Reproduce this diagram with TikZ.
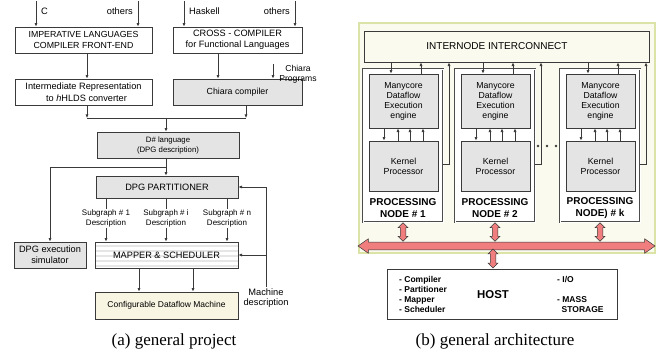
\documentclass[tikz,border=0pt]{standalone}
\usepackage{fontspec}
\setmainfont{Liberation Serif}
\setsansfont{Liberation Sans}
\usetikzlibrary{arrows.meta,shapes.arrows}
\definecolor{boxgray}{HTML}{E4E4E4}
\definecolor{cream}{HTML}{F8F5E2}
\definecolor{bgcream}{HTML}{FBFAEE}
\definecolor{bgedge}{HTML}{DCE3A6}
\definecolor{fatred}{HTML}{F07E7E}
\definecolor{ln}{HTML}{3A3A3A}
\definecolor{stripe}{HTML}{E6E6E6}
\newcommand{\fsz}[2]{\fontsize{#1}{#2}\selectfont}
\begin{document}
\begin{tikzpicture}[x=1pt,y=-1pt,
  box/.style={draw=ln, line width=0.8pt, fill=white, inner sep=0pt, align=center},
  gbox/.style={box, fill=boxgray},
  arr/.style={draw=ln, line width=0.7pt, -{Latex[length=3.6pt,width=3.2pt]}},
  lnn/.style={draw=ln, line width=0.7pt},
  lbl/.style={inner sep=1pt, align=center},
  sf/.style n args={2}{font=\sffamily\fsz{#1}{#2}},
  bsf/.style n args={2}{font=\sffamily\bfseries\fsz{#1}{#2}},
  fat/.style={double arrow, draw=ln, line width=0.5pt, fill=fatred, inner sep=2.5pt, outer sep=0pt,
    double arrow head extend=2.2pt, double arrow tip angle=90},
  stripes/.style={path picture={
    \foreach \k in {0,...,4}{
      \fill[stripe] ([yshift={-2.5pt-5pt*\k}]path picture bounding box.north west)
        rectangle ([yshift={-4.5pt-5pt*\k}]path picture bounding box.north east);}}}
]
\useasboundingbox (0,0) rectangle (667,356);

% ---------------- (a) general project ----------------
\node[box, sf={8.8}{11}, minimum width=137pt, minimum height=26pt] (imp) at (83.5,40)
  {IMPERATIVE LANGUAGES\\COMPILER FRONT-END};
\node[box, sf={9.2}{11}, minimum width=129pt, minimum height=26pt] (cross) at (237.5,40)
  {CROSS - COMPILER\\for Functional Languages};
\node[box, sf={9.2}{11.5}, minimum width=137pt, minimum height=26pt] (ir) at (83.5,92)
  {Intermediate Representation\\\hspace*{6pt}to \textit{h}HLDS converter};
\node[gbox, sf={8.8}{11}, minimum width=129pt, minimum height=26pt] (chi) at (237.5,92)
  {Chiara compiler};
\node[lbl, sf={8.6}{10}] (cp) at (298,74) {Chiara\\Programs};

\coordinate (inC) at (36,1);
\coordinate (inO1) at (138,1);
\coordinate (inH) at (184,1);
\coordinate (inO2) at (295,1);
\coordinate (inCP) at (273,64);
\draw[arr] (inC) -- (inC |- imp.north);
\draw[arr] (inO1) -- (inO1 |- imp.north);
\draw[arr] (inH) -- (inH |- cross.north);
\draw[arr] (inO2) -- (inO2 |- cross.north);
\draw[arr] (inCP) -- (inCP |- chi.north);
\node[lbl, sf={9.3}{11}, anchor=west] (lC) at (40,11) {C};
\node[lbl, sf={9.3}{11}, anchor=east] (lO1) at (134,11) {others};
\node[lbl, sf={9.3}{11}, anchor=west] (lH) at (188,11) {Haskell};
\node[lbl, sf={9.3}{11}, anchor=east] (lO2) at (291,11) {others};

\draw[arr] ([xshift=3.5pt]imp.south) -- ([xshift=3.5pt]ir.north);
\draw[arr] ([xshift=-19.5pt]cross.south) -- ([xshift=-19.5pt]chi.north);

\node[gbox, sf={7.8}{10}, minimum width=142pt, minimum height=26pt] (ds) at (168,145)
  {D\# language\\(DPG description)};
\coordinate (jl) at (87,118);
\coordinate (jr) at (246,118);
\coordinate (jm) at (166,118);
\draw[arr] ([xshift=3.5pt]ir.south) -- (jl);
\draw[arr] ([xshift=8.5pt]chi.south) -- (jr);
\draw[lnn] (jl) -- (jr);
\draw[arr] (jm) -- (jm |- ds.north);

\node[gbox, sf={9.2}{11}, minimum width=142pt, minimum height=22pt] (part) at (167,187)
  {DPG PARTITIONER};
\node[gbox, sf={9.2}{11}, minimum width=72pt, minimum height=26pt] (sim) at (50,255)
  {DPG execution\\simulator};
\node[box, stripes, sf={9.2}{11}, minimum width=143pt, minimum height=26pt] (map) at (166.5,255)
  {MAPPER \& SCHEDULER};
\node[box, sf={8.5}{10}, fill=cream, minimum width=143pt, minimum height=27pt] (cdm) at (166.5,305.5)
  {Configurable Dataflow Machine};

\coordinate (br) at (166,167);
\draw[arr] (ds.south -| br) -- (part.north -| br);
\draw[arr] (br) -| (sim.north);

\node[lbl, sf={8}{9.5}] (sg1) at (106,218.5) {Subgraph \# 1\\Description};
\node[lbl, sf={8}{9.5}] (sgi) at (166,218.5) {Subgraph \# i\\Description};
\node[lbl, sf={8}{9.5}] (sgn) at (227,218.5) {Subgraph \# n\\Description};
\foreach \s in {sg1,sgi,sgn}{
  \draw[lnn] (part.south -| \s.north) -- (\s.north);
  \draw[arr] (\s.south) -- (map.north -| \s.south);
}

\node[lbl, sf={9.3}{10.5}] (md) at (266,298) {Machine\\description};
\draw[arr] (md.north) |- (part.east);
\draw[arr] (md.north |- map.east) -- (map.east);

\draw[arr] ([xshift=-27.5pt]map.south) -- ([xshift=-27.5pt]cdm.north);
\draw[arr] ([xshift=26.5pt]map.south) -- ([xshift=26.5pt]cdm.north);

\node[font=\fsz{17}{20}] (capa) at (174,341) {(a) general project};

% ---------------- (b) general architecture ----------------
\node[draw=bgedge, fill=bgcream, line width=1.2pt, minimum width=296pt, minimum height=230pt, inner sep=0pt] (bg) at (507,138) {};
\node[box, sf={10}{12}, fill=bgcream, minimum width=285pt, minimum height=31pt] (ic) at (506.5,46.5)
  {INTERNODE INTERCONNECT\hspace*{19pt}};

\foreach \lx/\n/\lab in {363/1/{NODE \# 1}, 455/2/{NODE \# 2}, 560/k/{NODE) \# k}}{
  \node[draw=gray!60!black, double=white, double distance=1pt, line width=0.6pt, fill=white,
    minimum width=80pt, minimum height=153pt, inner sep=0pt] (pn\n) at ({\lx+40},145.5) {};
  \node[gbox, sf={8.7}{10}, minimum width=69pt, minimum height=54pt] (mc\n) at ({\lx+40.5},101)
    {Manycore\\Dataflow\\Execution\\engine};
  \node[gbox, sf={8.8}{10}, minimum width=69pt, minimum height=50pt] (kp\n) at ({\lx+40.5},166)
    {Kernel\\Processor};
  \node[lbl, bsf={10}{12}] (pl\n) at ({\lx+40},208) {PROCESSING\\\lab};
  \pgfmathsetmacro\xs{\lx+86}
  \draw[arr] ([xshift=-12.5pt]mc\n.north |- ic.south) -- ([xshift=-12.5pt]mc\n.north);
  \draw[arr] ([xshift=17.5pt]mc\n.north) -- ([xshift=17.5pt]mc\n.north |- ic.south);
  \draw[arr] ([yshift=-18.5pt]pn\n.east) -| (ic.south -| \xs,0);
  \draw[arr] ([xshift=-19.5pt]mc\n.south) -- ([xshift=-19.5pt]kp\n.north);
  \draw[arr] ([xshift=-5.5pt]kp\n.north) -- ([xshift=-5.5pt]mc\n.south);
  \draw[arr] ([xshift=6.5pt]kp\n.north) -- ([xshift=6.5pt]mc\n.south);
  \draw[arr] ([xshift=19.5pt]kp\n.north) -- ([xshift=19.5pt]mc\n.south);
  \node[fat, rotate=90, minimum height=18.5pt] (fv\n) at ({\lx+40},232) {};
}
\node[circle, fill=ln, inner sep=0pt, minimum size=2.8pt] (d1) at (538,146) {};
\node[circle, fill=ln, inner sep=0pt, minimum size=2.8pt] (d2) at (547,146) {};
\node[circle, fill=ln, inner sep=0pt, minimum size=2.8pt] (d3) at (556,146) {};

\node[fat, inner sep=3.6pt, double arrow head extend=3.4pt, double arrow tip angle=70,
  minimum height=297pt] (fbig) at (506.5,246) {};
\node[fat, rotate=90, minimum height=19pt] (fh) at (493,258.5) {};

\node[box, minimum width=230pt, minimum height=50pt] (host) at (502,294) {};
\node[lbl, bsf={8.5}{9.8}, anchor=west, align=left] (hl) at (398,294.5)
  {- Compiler\\- Partitioner\\- Mapper\\- Scheduler};
\node[lbl, bsf={11.4}{13}] (hh) at (493,295) {HOST};
\node[lbl, bsf={8.5}{9.8}, anchor=west, align=left] (hio) at (556,280) {- I/O};
\node[lbl, bsf={8.5}{9.8}, anchor=west, align=left] (hms) at (556,304.5)
  {- MASS\\\hspace*{4.5pt}STORAGE};

\node[font=\fsz{17}{20}] (capb) at (495,341) {(b) general architecture};
\end{tikzpicture}
\end{document}
